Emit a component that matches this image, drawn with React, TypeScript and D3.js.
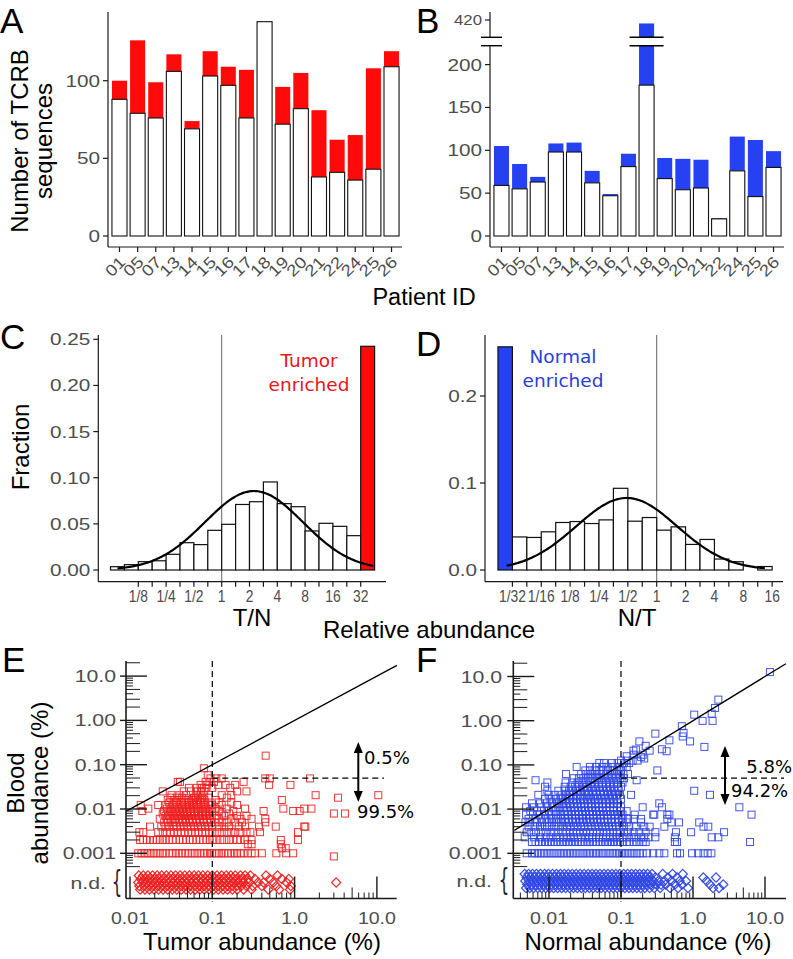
import React from 'react';
import * as d3 from 'd3';

// ---------------- DATA ----------------
const PATIENTS = ['01','05','07','13','14','15','16','17','18','19','20','21','22','24','25','26'];
const A_SHARED = [88,79,76,106,69,103,97,76,138,72,82,38,41,36,43,109];
const A_TOTAL  = [100,126,99,117,74,119,109,107,138,96,105,81,62,65,108,119];
const B_SHARED = [59,55,63,98,98,62,47,81,176,67,54,56,20,76,46,80];
const B_TOTAL  = [105,84,69,108,109,76,49,96,417,91,90,89,21,116,112,99];
const A_TICKS = [0,50,100];
const B_TICKS = [0,50,100,150,200];
const B_TOP_TICK = 420;

const C_BIN_LO = [-4,-3.5,-3,-2.5,-2,-1.5,-1,-0.5,0,0.5,1,1.5,2,2.5,3,3.5,4,4.5];
const C_FRACTION = [0.0036,0.0058,0.009,0.010,0.017,0.0296,0.0275,0.043,0.0495,0.071,0.074,0.0954,0.0719,0.0686,0.0423,0.0506,0.0473,0.0372];
const C_ENRICHED_LO = 5;
const C_ENRICHED = 0.2424;
const C_FIT = { mean: 1.16, sd: 1.76, peak: 0.0856, from: -3.75, to: 5.45 };
const C_YTICKS = [0,0.05,0.1,0.15,0.2,0.25];
const C_YLABELS = ['0.00','0.05','0.10','0.15','0.20','0.25'];
const C_XTICKS = [-3,-2,-1,0,1,2,3,4,5];
const C_XLABELS = ['1/8','1/4','1/2','1','2','4','8','16','32'];

const D_BIN_LO = [-5,-4.5,-4,-3.5,-3,-2.5,-2,-1.5,-1,-0.5,0,0.5,1,1.5,2,2.5,3,3.5];
const D_FRACTION = [0.038,0.0374,0.0439,0.0546,0.0557,0.0534,0.0576,0.0939,0.0561,0.0603,0.0458,0.0496,0.0294,0.0351,0.0126,0.0095,0,0.004];
const D_ENRICHED_LO = -5.5;
const D_ENRICHED = 0.2565;
const D_FIT = { mean: -1.04, sd: 1.75, peak: 0.0828, from: -5.2, to: 3.75 };
const D_YTICKS = [0,0.1,0.2];
const D_YLABELS = ['0.0','0.1','0.2'];
const D_XTICKS = [-5,-4,-3,-2,-1,0,1,2,3,4];
const D_XLABELS = ['1/32','1/16','1/8','1/4','1/2','1','2','4','8','16'];

const LOG_Y_MAJOR = [10,1,0.1,0.01,0.001];
const LOG_Y_LABELS = ['10.0','1.00','0.10','0.01','0.001'];
const LOG_X_MAJOR = [0.01,0.1,1,10];
const LOG_X_LABELS = ['0.01','0.1','1.0','10.0'];

// Panel E: [blood abundance, tumor abundances...]
const E_ROWS: [number, number[]][] = [
  [0.001,[0.0126,0.0138,0.015,0.0163,0.0178,0.0194,0.021,0.023,0.025,0.027,0.03,0.033,0.036,0.039,0.043,0.047,0.051,0.056,0.061,0.066,0.072,0.079,0.086,0.094,0.1,0.11,0.12,0.13,0.14,0.155,0.17,0.185,0.2,0.22,0.24,0.27,0.3,0.33,0.4,0.6,0.79,0.96]],
  [0.00085,[3.0]],
  [0.0013,[0.7,0.78]],
  [0.0016,[0.27,0.3,0.68]],
  [0.002,[0.0132,0.0145,0.016,0.0175,0.019,0.021,0.023,0.025,0.027,0.03,0.033,0.036,0.04,0.044,0.048,0.053,0.058,0.064,0.07,0.077,0.085,0.093,0.1,0.11,0.125,0.14,0.16,0.18,0.2,0.22,0.25,0.3,0.68,1.1]],
  [0.003,[0.013,0.0145,0.022,0.025,0.028,0.031,0.034,0.038,0.042,0.046,0.051,0.056,0.062,0.068,0.075,0.083,0.092,0.1,0.115,0.13,0.15,0.17,0.19,0.22,0.26,0.29,0.38,1.1]],
  [0.004,[0.0175,0.024,0.027,0.03,0.034,0.037,0.041,0.045,0.05,0.055,0.06,0.067,0.074,0.082,0.09,0.1,0.12,0.14,0.16,0.21,0.25,0.37,0.59,1.31,1.35]],
  [0.005,[0.026,0.029,0.033,0.036,0.04,0.044,0.048,0.053,0.058,0.064,0.071,0.079,0.087,0.096,0.11,0.13,0.15,0.19,0.23,0.44]],
  [0.006,[0.023,0.028,0.031,0.035,0.039,0.043,0.047,0.052,0.057,0.063,0.07,0.078,0.086,0.095,0.12,0.17,0.22,0.3,0.44]],
  [0.007,[0.027,0.03,0.034,0.038,0.042,0.046,0.05,0.055,0.061,0.068,0.076,0.084,0.093,0.11,0.14,0.2,0.26]],
  [0.0079,[0.025,0.029,0.033,0.037,0.041,0.045,0.049,0.054,0.06,0.067,0.075,0.083,0.092,0.13,0.16,3.0,4.1]],
  [0.009,[0.0141,0.026,0.032,0.036,0.04,0.044,0.049,0.055,0.061,0.068,0.077,0.087,0.1,0.12,0.18,0.42,0.96,1.15]],
  [0.0102,[0.0167,0.028,0.031,0.035,0.039,0.043,0.048,0.053,0.059,0.066,0.074,0.083,0.095,0.11,0.15,0.25,0.73,1.31,1.6]],
  [0.0123,[0.0135,0.022,0.027,0.033,0.037,0.042,0.047,0.053,0.06,0.068,0.078,0.09,0.1,0.13,0.2]],
  [0.014,[0.03,0.036,0.041,0.046,0.052,0.058,0.065,0.073,0.082,0.095,0.12,0.17]],
  [0.016,[0.0287,0.034,0.039,0.045,0.051,0.057,0.064,0.071,0.08,0.11,0.7]],
  [0.018,[0.031,0.037,0.043,0.06,0.067,0.075,0.09,0.15,3.37]],
  [0.0205,[0.032,0.04,0.048,0.063,0.07,0.078,0.13,0.17,1.8,10.4]],
  [0.025,[0.025,0.045,0.055,0.065,0.073,0.08,0.2,0.26]],
  [0.03,[0.052,0.065,0.075,0.085,0.1,0.165]],
  [0.035,[0.072,0.085,0.118,0.145,0.19,0.49,0.89]],
  [0.041,[0.038,0.0405,0.083,0.092,0.105,0.24]],
  [0.049,[0.095,0.112,0.13,0.44,0.5,1.54]],
  [0.058,[0.088]],
  [0.083,[0.079]],
  [0.16,[0.445]],
];

// Panel E not-detected in blood: [jitter lane, tumor abundances...]
const E_ND: [number, number[]][] = [
  [-1,[0.0128,0.0145,0.0165,0.0188,0.0214,0.0243,0.0277,0.0315,0.0358,0.0407,0.0463,0.0527,0.06,0.068,0.077,0.088,0.1,0.114,0.13,0.148,0.168,0.19,0.22,0.25,0.29,0.45,0.62]],
  [-0.5,[0.0135,0.0153,0.0174,0.0198,0.0225,0.0256,0.029,0.033,0.0376,0.0428,0.0487,0.055,0.063,0.072,0.082,0.093,0.106,0.12,0.137,0.156,0.177,0.2,0.23,0.27,0.33,0.5,0.7,0.85]],
  [0,[0.0126,0.0142,0.016,0.018,0.0205,0.023,0.026,0.0295,0.0335,0.038,0.043,0.049,0.056,0.064,0.073,0.083,0.095,0.108,0.123,0.14,0.16,0.18,0.21,0.24,0.28,0.36,0.42,0.55,0.8,3.2]],
  [0.5,[0.013,0.0148,0.0168,0.019,0.0217,0.0247,0.028,0.032,0.0365,0.0415,0.047,0.054,0.061,0.07,0.079,0.09,0.103,0.117,0.133,0.152,0.173,0.197,0.225,0.26,0.31,0.4,0.6,0.9]],
  [1,[0.0133,0.0152,0.0172,0.0196,0.0222,0.0252,0.0287,0.0327,0.037,0.042,0.048,0.0545,0.062,0.0705,0.08,0.091,0.104,0.118,0.135,0.153,0.175,0.2,0.24,0.3,0.48,0.65,0.88]],
];

// Panel F: [blood abundance, normal abundances...]
const F_ROWS: [number, number[]][] = [
  [0.001,[0.0049,0.0058,0.0064,0.007,0.0077,0.0085,0.0093,0.0102,0.0112,0.0123,0.0135,0.0148,0.0162,0.0178,0.0195,0.0214,0.0235,0.0258,0.0283,0.031,0.034,0.037,0.041,0.045,0.049,0.054,0.059,0.065,0.071,0.078,0.086,0.094,0.103,0.113,0.124,0.136,0.15,0.165,0.18,0.2,0.23,0.28,0.34,0.4,0.6,0.66,0.97,1.18,1.4,1.6,1.8]],
  [0.0018,[0.0058,0.0065,0.0072,0.008,0.0088,0.0097,0.0107,0.0118,0.013,0.0143,0.0157,0.0173,0.019,0.021,0.023,0.0253,0.028,0.031,0.034,0.037,0.041,0.045,0.05,0.055,0.06,0.066,0.073,0.08,0.088,0.097,0.107,0.12,0.13,0.15,0.165,0.18,0.2,0.22,0.56,0.6,6.2]],
  [0.0023,[0.0046,0.0062,0.0075,0.009,0.0105,0.0125,0.014,0.016,0.018,0.02,0.022,0.025,0.028,0.032,0.036,0.04,0.045,0.05,0.056,0.062,0.07,0.078,0.086,0.095,0.105,0.12,0.14,0.16,0.19,0.21,0.24,0.3,0.56,1.82,2.25]],
  [0.003,[0.0049,0.0057,0.0066,0.0078,0.009,0.0105,0.0118,0.0135,0.0155,0.0175,0.0195,0.0215,0.024,0.027,0.03,0.033,0.037,0.041,0.046,0.051,0.057,0.063,0.07,0.078,0.087,0.096,0.11,0.125,0.15,0.18,0.22,0.3,0.58,0.94,2.7]],
  [0.004,[0.0052,0.0063,0.0075,0.0088,0.0101,0.0118,0.0135,0.0155,0.0178,0.02,0.0225,0.025,0.028,0.031,0.035,0.039,0.044,0.049,0.055,0.061,0.068,0.076,0.085,0.095,0.11,0.13,0.16,0.21,0.25,0.4,1.4,1.63]],
  [0.005,[0.0047,0.0055,0.0068,0.008,0.0095,0.011,0.0128,0.0148,0.017,0.019,0.0215,0.024,0.027,0.03,0.034,0.038,0.042,0.047,0.053,0.059,0.066,0.074,0.083,0.093,0.105,0.12,0.19,0.5,0.64,1.22]],
  [0.006,[0.0052,0.0065,0.0078,0.0092,0.0108,0.0125,0.0145,0.0165,0.0185,0.021,0.0235,0.026,0.029,0.033,0.037,0.041,0.046,0.052,0.058,0.065,0.073,0.082,0.092,0.105,0.125,0.15,0.19,0.44]],
  [0.0075,[0.0048,0.006,0.0072,0.0088,0.0105,0.0125,0.0145,0.0165,0.0185,0.021,0.0235,0.026,0.029,0.033,0.037,0.041,0.046,0.052,0.058,0.065,0.073,0.082,0.092,0.105,0.155,0.28,0.29,0.44,0.47,6.5]],
  [0.009,[0.0055,0.0068,0.0085,0.01,0.012,0.014,0.016,0.018,0.0205,0.023,0.0255,0.0285,0.032,0.036,0.04,0.045,0.05,0.056,0.063,0.07,0.078,0.088,0.1,0.12]],
  [0.011,[0.0048,0.0062,0.0078,0.0095,0.0115,0.0135,0.0155,0.0175,0.02,0.0225,0.025,0.028,0.031,0.035,0.039,0.044,0.049,0.055,0.062,0.07,0.078,0.088,0.1,0.2,0.37,4.4]],
  [0.0135,[0.0058,0.0075,0.0092,0.011,0.013,0.015,0.0172,0.0195,0.022,0.0245,0.0275,0.031,0.035,0.039,0.044,0.049,0.055,0.062,0.07,0.08,0.09,0.34]],
  [0.017,[0.0088,0.0105,0.0125,0.0145,0.0168,0.019,0.0215,0.024,0.027,0.03,0.034,0.038,0.043,0.048,0.054,0.061,0.069,0.078,0.088,0.1]],
  [0.021,[0.0071,0.0099,0.012,0.0145,0.0172,0.0195,0.022,0.025,0.028,0.032,0.036,0.041,0.046,0.052,0.058,0.066,0.075,0.085,0.097,0.138,1.72]],
  [0.026,[0.0095,0.0135,0.0165,0.019,0.0215,0.024,0.027,0.031,0.035,0.04,0.045,0.051,0.057,0.064,0.072,0.082,0.093,1.04]],
  [0.032,[0.0088,0.0165,0.02,0.023,0.026,0.03,0.034,0.038,0.043,0.049,0.055,0.062,0.07,0.08,0.09,0.1]],
  [0.04,[0.0095,0.017,0.021,0.025,0.029,0.033,0.038,0.043,0.049,0.055,0.062,0.07,0.08,0.091,0.105]],
  [0.045,[0.0065,0.165]],
  [0.05,[0.022,0.026,0.03,0.035,0.04,0.046,0.052,0.059,0.067,0.076,0.086,0.098,0.11]],
  [0.062,[0.0172,0.028,0.033,0.038,0.044,0.05,0.057,0.065,0.074,0.084,0.095,0.108,0.125]],
  [0.075,[0.032,0.037,0.043,0.05,0.057,0.066,0.076,0.088,0.1,0.32]],
  [0.09,[0.0242,0.037,0.045,0.055,0.065,0.078,0.093,0.105,0.12]],
  [0.11,[0.05,0.058,0.075,0.09,0.11,0.13]],
  [0.125,[0.1,0.12,0.145,0.17]],
  [0.14,[0.21]],
  [0.152,[0.19]],
  [0.157,[0.12]],
  [0.17,[0.15,0.2]],
  [0.204,[0.43]],
  [0.21,[0.149,0.25]],
  [0.222,[0.161]],
  [0.226,[0.37]],
  [0.255,[1.44]],
  [0.27,[0.22]],
  [0.34,[0.18,0.91]],
  [0.36,[0.47]],
  [0.44,[0.72]],
  [0.51,[0.3]],
  [0.53,[0.74]],
  [0.75,[0.7]],
  [0.99,[1.36,1.87]],
  [1.37,[1.04]],
  [1.44,[1.82]],
  [1.94,[2.02]],
  [3.0,[2.25]],
  [12.6,[11.7]],
];

const F_ND: [number, number[]][] = [
  [-1,[0.0046,0.0052,0.0059,0.0067,0.0076,0.0087,0.0098,0.0112,0.0127,0.0144,0.0163,0.0185,0.021,0.0239,0.0271,0.0308,0.035,0.0397,0.045,0.0511,0.058,0.0659,0.0748,0.0849,0.0963,0.109,0.124,0.141,0.16,0.182,0.206,0.234,0.27,0.38,0.52,0.72]],
  [-0.5,[0.0049,0.0055,0.0063,0.0071,0.0081,0.0092,0.0105,0.0119,0.0135,0.0153,0.0174,0.0197,0.0224,0.0254,0.0289,0.0328,0.0373,0.0423,0.048,0.0545,0.0619,0.0702,0.0797,0.0905,0.103,0.117,0.132,0.15,0.171,0.194,0.22,0.25,0.3,0.45,0.6,1.39,2.09]],
  [0,[0.0047,0.0053,0.006,0.0068,0.0078,0.0089,0.0101,0.0115,0.013,0.0148,0.0168,0.019,0.0216,0.0245,0.0278,0.0316,0.0358,0.0407,0.0462,0.0524,0.0595,0.0675,0.0766,0.087,0.0988,0.112,0.127,0.144,0.164,0.186,0.211,0.24,0.28,0.33,0.4,0.5,0.65,0.8,1.55]],
  [0.5,[0.005,0.0057,0.0065,0.0073,0.0083,0.0095,0.0107,0.0122,0.0138,0.0157,0.0178,0.0202,0.023,0.026,0.0296,0.0336,0.0381,0.0433,0.049,0.0557,0.0632,0.0717,0.0814,0.0924,0.105,0.119,0.135,0.153,0.174,0.198,0.225,0.26,0.31,0.36,0.42,0.56,0.7,1.72,2.63]],
  [1,[0.0048,0.0054,0.0061,0.007,0.0079,0.009,0.0102,0.0116,0.0132,0.015,0.017,0.0193,0.0219,0.0248,0.0282,0.032,0.0363,0.0412,0.0468,0.0531,0.0603,0.0684,0.0776,0.088,0.1,0.113,0.129,0.146,0.166,0.188,0.214,0.25,0.29,0.35,0.48,0.62,0.85,1.9,2.3]],
];

// ---------------- STYLE ----------------
const SANS = "'Liberation Sans', Arial, Helvetica, sans-serif";
const DEJA = "'DejaVu Sans', sans-serif";
const GRAY = '#4d4d4d';
const AX = '#1a1a1a';
const RED = '#ff0a0a';
const BLUE = '#2541f2';
const SQ_RED = '#ee2020';
const SQ_BLUE = '#2f46e6';
const TICK_SIZE = 17;
const TICK_SX = 1.22;
const TITLE_SIZE = 24;

type TP = { x: number; y: number; children: any; size?: number; anchor?: string; fill?: string; family?: string; sx?: number; rot?: number };
function Txt({ x, y, children, size = 16, anchor = 'start', fill = '#000', family = SANS, sx = 1, rot = 0 }: TP) {
  const tr = `translate(${x},${y})` + (rot ? ` rotate(${rot})` : '') + (sx !== 1 ? ` scale(${sx},1)` : '');
  return <text transform={tr} fontSize={size} textAnchor={anchor as any} fill={fill} fontFamily={family}>{children}</text>;
}

// ---------------- PANEL A / B ----------------
function BarPanelA() {
  const axX = 108, axB = 247;
  const xs = d3.scaleBand<string>().domain(PATIENTS).range([110.5, 400.5]).paddingInner(0.17).paddingOuter(0.08);
  const ys = d3.scaleLinear().domain([0, 100]).range([236, 80.7]);
  return (
    <g>
      {PATIENTS.map((p, i) => {
        const x = xs(p)!; const w = xs.bandwidth();
        return (
          <g key={p}>
            {A_TOTAL[i] > A_SHARED[i] && <rect x={x} y={ys(A_TOTAL[i])} width={w} height={ys(A_SHARED[i]) - ys(A_TOTAL[i])} fill={RED} />}
            <rect x={x} y={ys(A_SHARED[i])} width={w} height={ys(0) - ys(A_SHARED[i])} fill="#fff" stroke="#111" strokeWidth={1.1} />
          </g>
        );
      })}
      <line x1={axX} x2={axX} y1={12} y2={axB} stroke={AX} strokeWidth={1.2} />
      <line x1={axX} x2={402} y1={axB} y2={axB} stroke={AX} strokeWidth={1.2} />
      {A_TICKS.map(t => (
        <g key={t}>
          <line x1={axX - 5} x2={axX} y1={ys(t)} y2={ys(t)} stroke={AX} strokeWidth={1.2} />
          <Txt x={axX - 8} y={ys(t) + 6} anchor="end" fill={GRAY} size={TICK_SIZE} sx={TICK_SX}>{t}</Txt>
        </g>
      ))}
      {PATIENTS.map(p => {
        const cx = xs(p)! + xs.bandwidth() / 2;
        return (
          <g key={p}>
            <line x1={cx} x2={cx} y1={axB} y2={axB + 5} stroke={AX} strokeWidth={1.2} />
            <Txt x={cx + 7} y={263} anchor="end" fill={GRAY} size={16} rot={-45} sx={1.18}>{p}</Txt>
          </g>
        );
      })}
      <Txt x={28} y={141} anchor="middle" size={TITLE_SIZE} rot={-90}>Number of TCRB</Txt>
      <Txt x={52} y={141} anchor="middle" size={TITLE_SIZE} rot={-90}>sequences</Txt>
      <Txt x={0} y={33} size={35}>A</Txt>
    </g>
  );
}

function BarPanelB() {
  const axX = 490, axB = 247;
  const xs = d3.scaleBand<string>().domain(PATIENTS).range([492.5, 782.5]).paddingInner(0.17).paddingOuter(0.08);
  const ys = d3.scaleLinear().domain([0, 200]).range([236, 64.6]);
  const yu = d3.scaleLinear().domain([405, 420]).range([37.3, 20]);
  const brk1 = 37.3, brk2 = 45.7;
  return (
    <g>
      {PATIENTS.map((p, i) => {
        const x = xs(p)!; const w = xs.bandwidth();
        const broken = B_TOTAL[i] > 220;
        const topY = broken ? yu(B_TOTAL[i]) : ys(B_TOTAL[i]);
        return (
          <g key={p}>
            {B_TOTAL[i] > B_SHARED[i] && <rect x={x} y={topY} width={w} height={ys(B_SHARED[i]) - topY} fill={BLUE} />}
            <rect x={x} y={ys(B_SHARED[i])} width={w} height={ys(0) - ys(B_SHARED[i])} fill="#fff" stroke="#111" strokeWidth={1.1} />
            {broken && (
              <g>
                <rect x={x - 9.5} y={brk1} width={w + 19} height={brk2 - brk1} fill="#fff" />
                <line x1={x - 9.5} x2={x + w + 9.5} y1={brk1} y2={brk1} stroke="#000" strokeWidth={1.4} />
                <line x1={x - 9.5} x2={x + w + 9.5} y1={brk2} y2={brk2} stroke="#000" strokeWidth={1.4} />
              </g>
            )}
          </g>
        );
      })}
      <line x1={axX} x2={axX} y1={12} y2={brk1} stroke={AX} strokeWidth={1.2} />
      <line x1={axX} x2={axX} y1={brk2} y2={axB} stroke={AX} strokeWidth={1.2} />
      <line x1={481} x2={502} y1={brk1} y2={brk1} stroke="#000" strokeWidth={1.4} />
      <line x1={481} x2={502} y1={brk2} y2={brk2} stroke="#000" strokeWidth={1.4} />
      <line x1={axX} x2={784} y1={axB} y2={axB} stroke={AX} strokeWidth={1.2} />
      {B_TICKS.map(t => (
        <g key={t}>
          <line x1={axX - 5} x2={axX} y1={ys(t)} y2={ys(t)} stroke={AX} strokeWidth={1.2} />
          <Txt x={axX - 8} y={ys(t) + 6} anchor="end" fill={GRAY} size={TICK_SIZE} sx={TICK_SX}>{t}</Txt>
        </g>
      ))}
      <line x1={axX - 5} x2={axX} y1={yu(B_TOP_TICK)} y2={yu(B_TOP_TICK)} stroke={AX} strokeWidth={1.2} />
      <Txt x={axX - 8} y={yu(B_TOP_TICK) + 5} anchor="end" fill={GRAY} size={14} sx={1.2}>{B_TOP_TICK}</Txt>
      {PATIENTS.map(p => {
        const cx = xs(p)! + xs.bandwidth() / 2;
        return (
          <g key={p}>
            <line x1={cx} x2={cx} y1={axB} y2={axB + 5} stroke={AX} strokeWidth={1.2} />
            <Txt x={cx + 7} y={263} anchor="end" fill={GRAY} size={16} rot={-45} sx={1.18}>{p}</Txt>
          </g>
        );
      })}
      <Txt x={416} y={33} size={35}>B</Txt>
    </g>
  );
}

// ---------------- PANEL C / D ----------------
type HistCfg = {
  ax: number; right: number; x1: number; bw: number; yMaxV: number; yMaxPx: number;
  lo: number[]; vals: number[]; enrLo: number; enr: number; enrColor: string;
  fit: { mean: number; sd: number; peak: number; from: number; to: number };
  yticks: number[]; ylabels: string[]; xticks: number[]; xlabels: string[];
};
function HistPanel({ c }: { c: HistCfg }) {
  const top = 335, axB = 581.7, y0 = 570;
  const xs = d3.scaleLinear().domain([0, 1]).range([c.x1, c.x1 + c.bw * 2]);
  const ys = d3.scaleLinear().domain([0, c.yMaxV]).range([y0, c.yMaxPx]);
  const curvePts = d3.range(c.fit.from, c.fit.to + 0.001, 0.05).map(t => [t, c.fit.peak * Math.exp(-0.5 * ((t - c.fit.mean) / c.fit.sd) ** 2)] as [number, number]);
  const line = d3.line<[number, number]>().x(d => xs(d[0])).y(d => ys(d[1])).curve(d3.curveBasis);
  const tickPos = d3.range(c.xticks[0], c.xticks[c.xticks.length - 1] + 0.01, 0.5);
  return (
    <g>
      <line x1={xs(0)} x2={xs(0)} y1={top} y2={axB} stroke="#222" strokeWidth={0.7} />
      {c.lo.map((lo, i) => c.vals[i] > 0 && (
        <rect key={i} x={xs(lo)} y={ys(c.vals[i])} width={xs(lo + 0.5) - xs(lo)} height={y0 - ys(c.vals[i])} fill="#fff" stroke="#111" strokeWidth={1.2} />
      ))}
      <rect x={xs(c.enrLo)} y={ys(c.enr)} width={xs(c.enrLo + 0.5) - xs(c.enrLo)} height={y0 - ys(c.enr)} fill={c.enrColor} stroke="#111" strokeWidth={1.2} />
      <path d={line(curvePts)!} fill="none" stroke="#000" strokeWidth={2.2} />
      <line x1={c.ax} x2={c.ax} y1={top} y2={axB} stroke={AX} strokeWidth={1.2} />
      <line x1={c.ax} x2={c.right} y1={axB} y2={axB} stroke={AX} strokeWidth={1.2} />
      {c.yticks.map((t, i) => (
        <g key={t}>
          <line x1={c.ax - 5} x2={c.ax} y1={ys(t)} y2={ys(t)} stroke={AX} strokeWidth={1.2} />
          <Txt x={c.ax - 8} y={ys(t) + 6} anchor="end" fill={GRAY} size={TICK_SIZE} sx={TICK_SX}>{c.ylabels[i]}</Txt>
        </g>
      ))}
      {tickPos.map(t => <line key={t} x1={xs(t)} x2={xs(t)} y1={axB} y2={axB + 5} stroke={AX} strokeWidth={1.2} />)}
      {c.xticks.map((t, i) => (
        <Txt key={t} x={xs(t)} y={602} anchor="middle" fill={GRAY} size={16.5} sx={0.84}>{c.xlabels[i]}</Txt>
      ))}
    </g>
  );
}

// ---------------- PANEL E / F ----------------
type ScCfg = {
  xs: d3.ScaleLogarithmic<number, number>; ys: d3.ScaleLogarithmic<number, number>;
  ax: number; right: number; rows: [number, number[]][]; nd: [number, number[]][]; color: string;
  ndY: number; lineDom: [number, number]; arrowX: number; arrowTop: number; arrowBot: number;
  hi: { x: number; y: number; t: string; a: string }; lo: { x: number; y: number; t: string; a: string };
  labelX: number; braceX: number; dashRight: number;
};
function ScatterPanel({ c }: { c: ScCfg }) {
  const top = 661, axB = 898.5;
  const pts = c.rows.flatMap(([y, arr]) => arr.map(x => [x, y] as [number, number]));
  const dia = c.nd.flatMap(([j, arr]) => arr.map(x => [x, j] as [number, number]));
  const minorY: [number, number][] = [];
  for (let d = -4; d <= 1; d++) for (let m = 2; m <= 9; m++) {
    const v = m * Math.pow(10, d); const py = c.ys(v);
    if (py > top + 1 && py < 868) minorY.push([py, m]);
  }
  const minorX: [number, number][] = [];
  for (let d = -3; d <= 1; d++) for (let m = 2; m <= 9; m++) {
    const v = m * Math.pow(10, d); const px = c.xs(v);
    if (px > c.ax + 0.5 && px < c.right - 1) minorX.push([px, m]);
  }
  const [l0, l1] = c.lineDom;
  const x01 = c.xs(0.1), y05 = c.ys(0.05);
  return (
    <g>
      {pts.map(([x, y], i) => (
        <rect key={'s' + i} x={c.xs(x) - 3.5} y={c.ys(y) - 3.5} width={7} height={7} fill="none" stroke={c.color} strokeWidth={1} strokeOpacity={0.9} />
      ))}
      {dia.map(([x, j], i) => {
        const px = c.xs(x), py = c.ndY + j * 7;
        return <path key={'d' + i} d={`M${px},${py - 4.6}L${px + 4.6},${py}L${px},${py + 4.6}L${px - 4.6},${py}Z`} fill="none" stroke={c.color} strokeWidth={1.25} strokeOpacity={0.95} />;
      })}
      <line x1={c.xs(l0)} y1={c.ys(l0)} x2={c.xs(l1)} y2={c.ys(l1)} stroke="#000" strokeWidth={1.3} />
      <line x1={x01} x2={x01} y1={top} y2={axB + 3} stroke="#000" strokeWidth={1.2} strokeDasharray="6,4" />
      <line x1={x01} x2={c.dashRight} y1={y05} y2={y05} stroke="#000" strokeWidth={1.2} strokeDasharray="6,4" />
      <line x1={c.ax} x2={c.ax} y1={top} y2={axB} stroke={AX} strokeWidth={1.6} />
      <line x1={c.ax} x2={c.right} y1={axB} y2={axB} stroke={AX} strokeWidth={1.6} />
      {LOG_Y_MAJOR.map((v, i) => (
        <g key={v}>
          <line x1={c.ax - 6} x2={c.ax + 21} y1={c.ys(v)} y2={c.ys(v)} stroke={AX} strokeWidth={1.4} />
          <Txt x={c.labelX} y={c.ys(v) + 6} anchor="end" fill={GRAY} size={TICK_SIZE} sx={1.25}>{LOG_Y_LABELS[i]}</Txt>
        </g>
      ))}
      {minorY.map(([py, m], i) => (
        <line key={'my' + i} x1={c.ax} x2={c.ax + (m === 2 || m === 3 || m === 5 ? 14 : 7)} y1={py} y2={py} stroke={AX} strokeWidth={1} />
      ))}
      {LOG_X_MAJOR.map((v, i) => (
        <g key={v}>
          <line x1={c.xs(v)} x2={c.xs(v)} y1={axB} y2={axB - 22} stroke={AX} strokeWidth={1.4} />
          <Txt x={c.xs(v)} y={924} anchor="middle" fill={GRAY} size={TICK_SIZE} sx={1.15}>{LOG_X_LABELS[i]}</Txt>
        </g>
      ))}
      {minorX.map(([px, m], i) => (
        <line key={'mx' + i} x1={px} x2={px} y1={axB} y2={axB - (m === 5 ? 11 : 6)} stroke={AX} strokeWidth={1} />
      ))}
      <Txt x={c.labelX - 10} y={c.ndY + 6} anchor="end" fill={GRAY} size={TICK_SIZE} sx={1.25}>n.d.</Txt>
      <Txt x={c.braceX} y={c.ndY + 9} anchor="middle" fill="#222" size={30} family={DEJA} sx={0.55}>{'{'}</Txt>
      <line x1={c.arrowX} x2={c.arrowX} y1={c.arrowTop + 8} y2={c.arrowBot - 8} stroke="#000" strokeWidth={2} />
      <path d={`M${c.arrowX},${c.arrowTop}L${c.arrowX + 4.5},${c.arrowTop + 11}L${c.arrowX - 4.5},${c.arrowTop + 11}Z`} fill="#000" />
      <path d={`M${c.arrowX},${c.arrowBot}L${c.arrowX + 4.5},${c.arrowBot - 11}L${c.arrowX - 4.5},${c.arrowBot - 11}Z`} fill="#000" />
      <Txt x={c.hi.x} y={c.hi.y} anchor={c.hi.a} size={18} family={DEJA}>{c.hi.t}</Txt>
      <Txt x={c.lo.x} y={c.lo.y} anchor={c.lo.a} size={18} family={DEJA}>{c.lo.t}</Txt>
    </g>
  );
}

export default function App() {
  const xE = d3.scaleLog().domain([0.01, 10]).range([130, 376.9]);
  const yE = d3.scaleLog().domain([0.001, 10]).range([853.3, 676.1]);
  const xF = d3.scaleLog().domain([0.01, 10]).range([549, 765]);
  const yF = d3.scaleLog().domain([0.001, 10]).range([853.3, 676.5]);

  const cCfg: HistCfg = {
    ax: 98.3, right: 386, x1: 221.7, bw: 13.9, yMaxV: 0.25, yMaxPx: 339.3,
    lo: C_BIN_LO, vals: C_FRACTION, enrLo: C_ENRICHED_LO, enr: C_ENRICHED, enrColor: RED,
    fit: C_FIT, yticks: C_YTICKS, ylabels: C_YLABELS, xticks: C_XTICKS, xlabels: C_XLABELS,
  };
  const dCfg: HistCfg = {
    ax: 485, right: 783, x1: 656.7, bw: 14.43, yMaxV: 0.2, yMaxPx: 396,
    lo: D_BIN_LO, vals: D_FRACTION, enrLo: D_ENRICHED_LO, enr: D_ENRICHED, enrColor: BLUE,
    fit: D_FIT, yticks: D_YTICKS, ylabels: D_YLABELS, xticks: D_XTICKS, xlabels: D_XLABELS,
  };
  const eCfg: ScCfg = {
    xs: xE, ys: yE, ax: 126, right: 396.7, rows: E_ROWS, nd: E_ND, color: SQ_RED, ndY: 882.5,
    lineDom: [0.0091, 17.5], arrowX: 358.3, arrowTop: 742, arrowBot: 802,
    hi: { x: 364, y: 764, t: '0.5%', a: 'start' }, lo: { x: 357, y: 818, t: '99.5%', a: 'start' },
    labelX: 116, braceX: 117, dashRight: 384,
  };
  const fCfg: ScCfg = {
    xs: xF, ys: yF, ax: 513.3, right: 786, rows: F_ROWS, nd: F_ND, color: SQ_BLUE, ndY: 881,
    lineDom: [0.0033, 19.5], arrowX: 725, arrowTop: 746, arrowBot: 805,
    hi: { x: 792, y: 773, t: '5.8%', a: 'end' }, lo: { x: 731, y: 797, t: '94.2%', a: 'start' },
    labelX: 502, braceX: 504, dashRight: 784,
  };

  return (
    <svg width={793} height={959} viewBox="0 0 793 959" style={{ position: 'absolute', left: 0, top: 0, background: '#fff' }}>
      <rect x={0} y={0} width={793} height={959} fill="#fff" />
      <BarPanelA />
      <BarPanelB />
      <Txt x={424} y={305} anchor="middle" size={23.5}>Patient ID</Txt>

      <HistPanel c={cCfg} />
      <HistPanel c={dCfg} />
      <Txt x={309} y={367} anchor="middle" size={18.5} family={DEJA} fill="#e8161b">Tumor</Txt>
      <Txt x={309} y={391} anchor="middle" size={18.5} family={DEJA} fill="#e8161b">enriched</Txt>
      <Txt x={563} y={363} anchor="middle" size={18.5} family={DEJA} fill="#2a40d6">Normal</Txt>
      <Txt x={563} y={387} anchor="middle" size={18.5} family={DEJA} fill="#2a40d6">enriched</Txt>
      <Txt x={29} y={447} anchor="middle" size={TITLE_SIZE} rot={-90}>Fraction</Txt>
      <Txt x={252} y={626} anchor="middle" size={TITLE_SIZE}>T/N</Txt>
      <Txt x={637} y={626} anchor="middle" size={TITLE_SIZE}>N/T</Txt>
      <Txt x={429} y={638} anchor="middle" size={TITLE_SIZE}>Relative abundance</Txt>
      <Txt x={0} y={349} size={35}>C</Txt>
      <Txt x={416} y={356} size={35}>D</Txt>

      <ScatterPanel c={eCfg} />
      <ScatterPanel c={fCfg} />
      <Txt x={24} y={783} anchor="middle" size={TITLE_SIZE} rot={-90}>Blood</Txt>
      <Txt x={48} y={783} anchor="middle" size={TITLE_SIZE} rot={-90}>abundance (%)</Txt>
      <Txt x={262} y={950} anchor="middle" size={TITLE_SIZE}>Tumor abundance (%)</Txt>
      <Txt x={648} y={950} anchor="middle" size={TITLE_SIZE}>Normal abundance (%)</Txt>
      <Txt x={2} y={672} size={35}>E</Txt>
      <Txt x={416} y={672} size={35}>F</Txt>
    </svg>
  );
}
